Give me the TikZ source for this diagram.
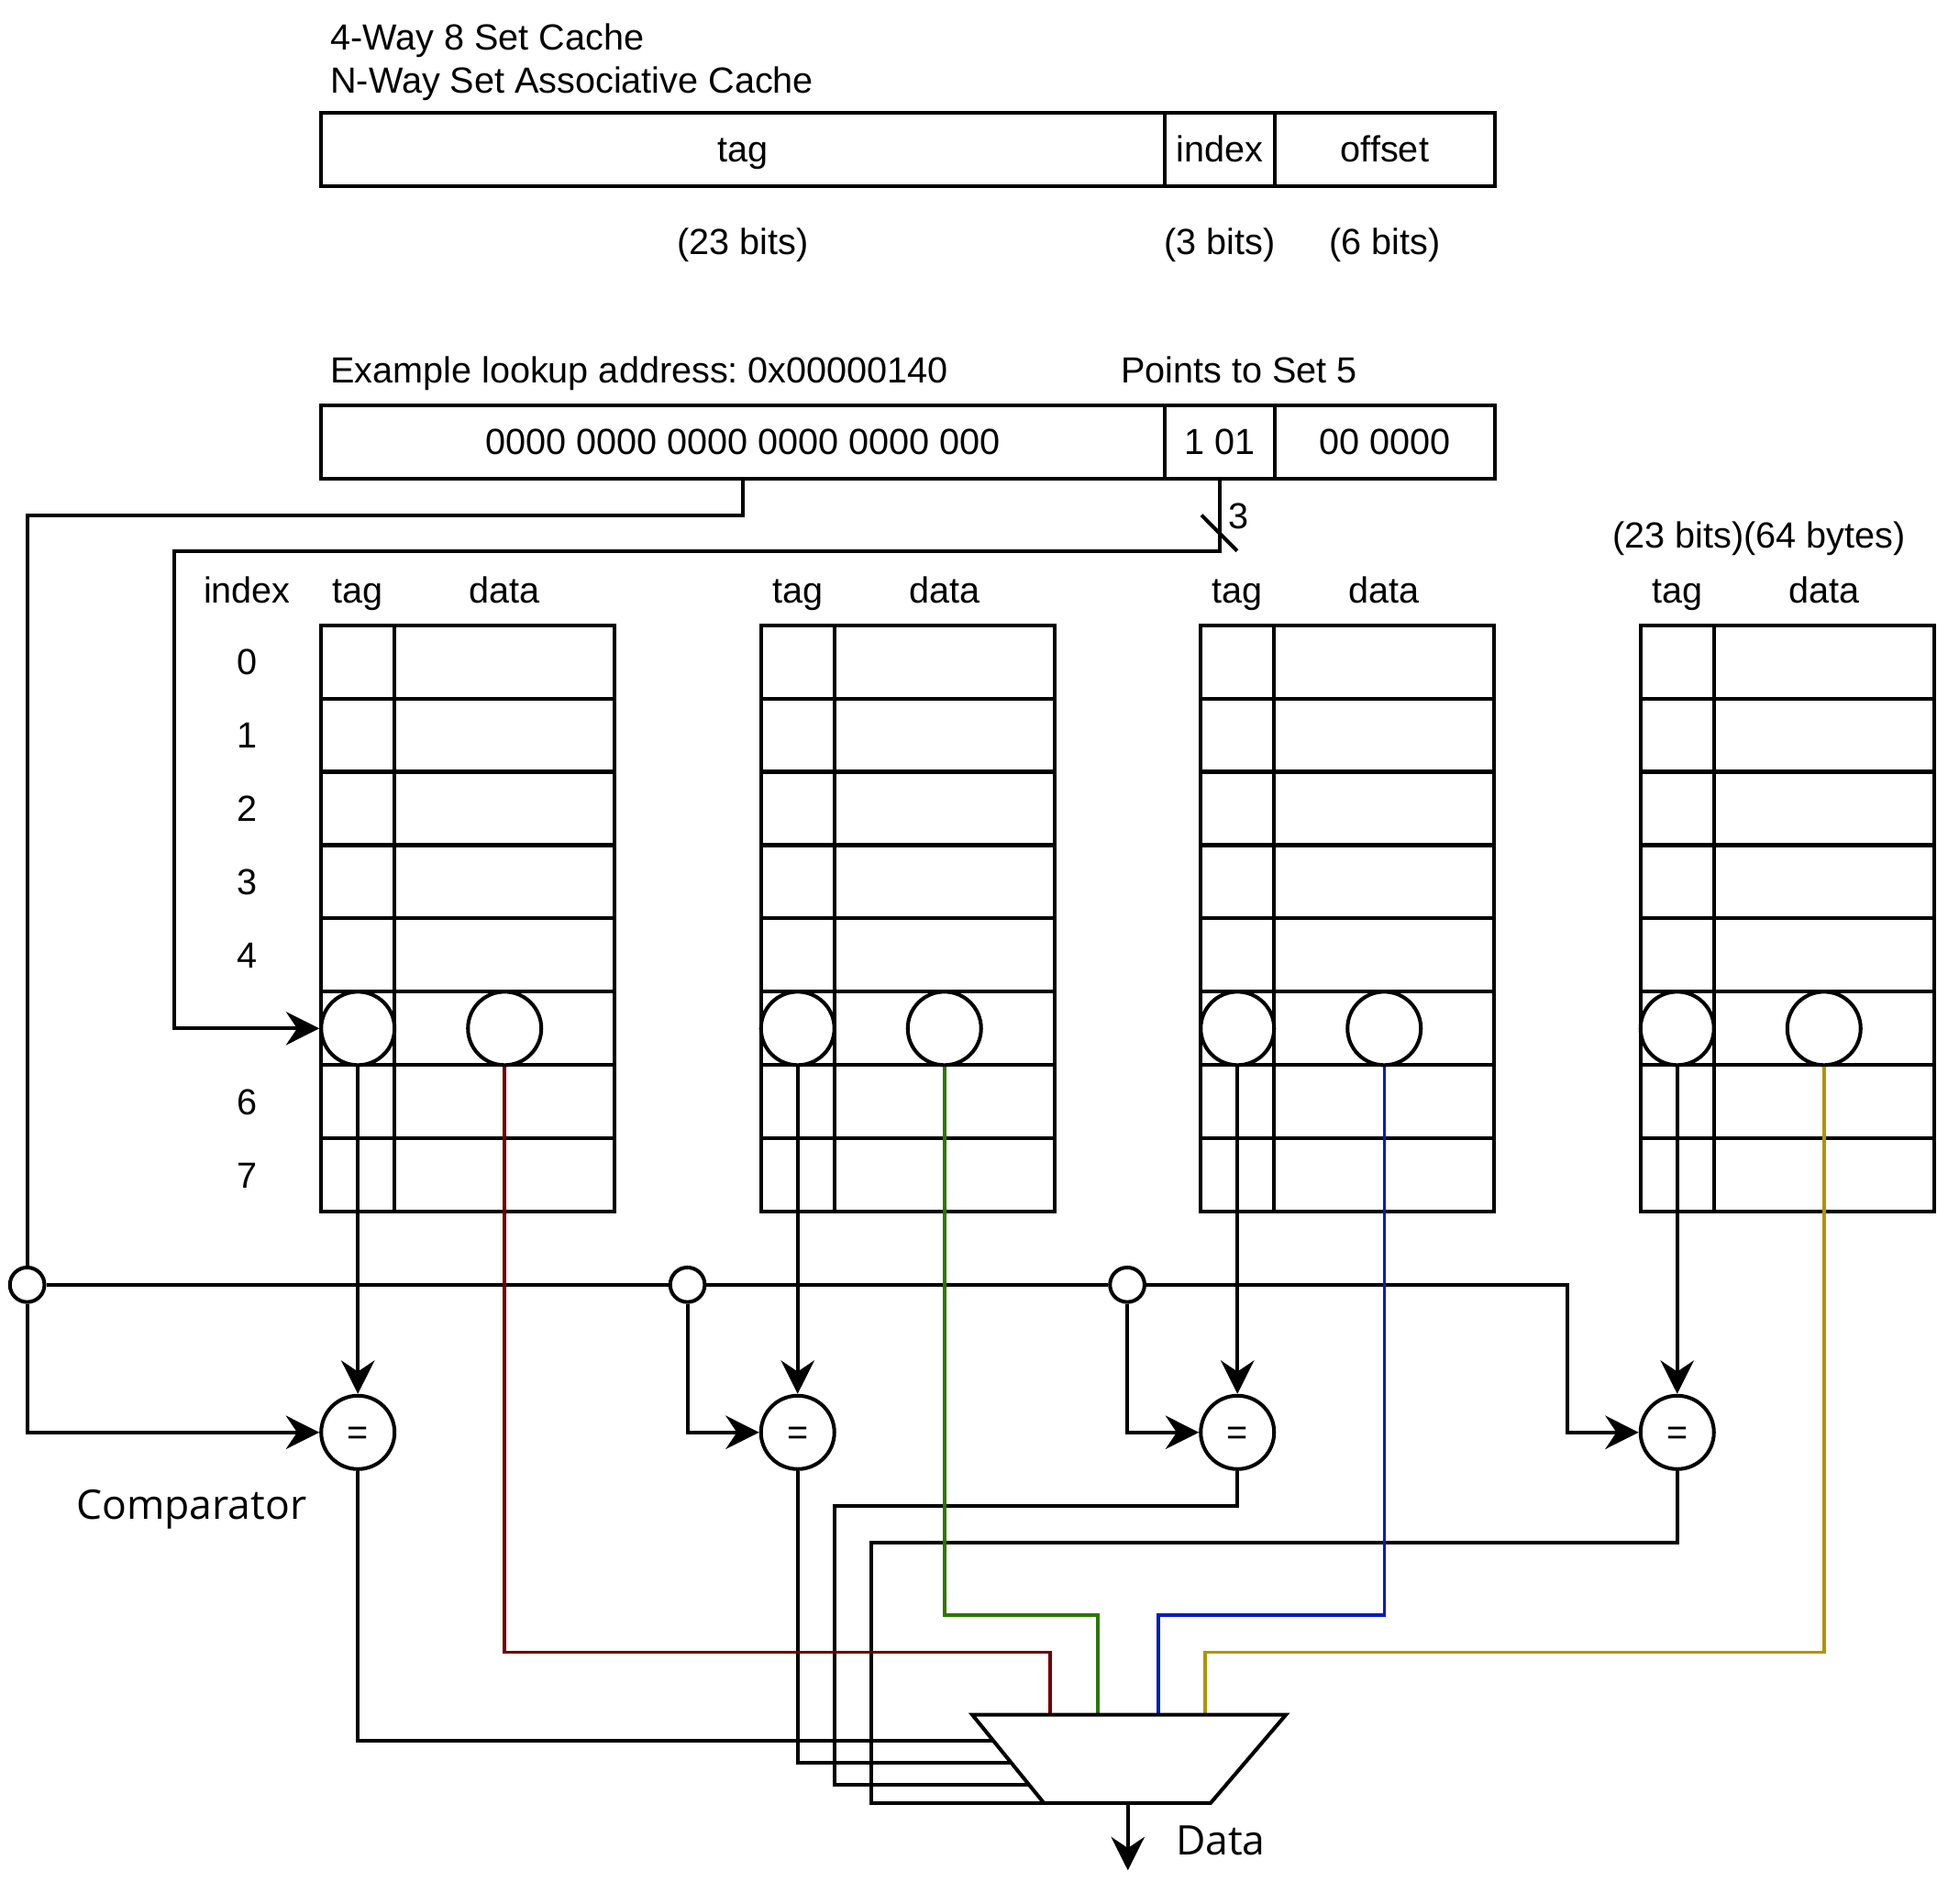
\documentclass[tikz,border=0pt]{standalone}
\usepackage{fontspec}
\setmainfont{Liberation Sans}
\newfontfamily\bigfont{Open Sans}
\usetikzlibrary{arrows.meta,calc}
\definecolor{cred}{HTML}{6F0000}
\definecolor{cgreen}{HTML}{2D7600}
\definecolor{cblue}{HTML}{001DBC}
\definecolor{cgold}{HTML}{B09500}
\frenchspacing
\begin{document}
\begin{tikzpicture}[x=1pt,y=-1pt,line width=3pt,
  lbl/.style={font=\fontsize{29.4}{35}\selectfont,inner sep=0,text height=20.6pt,text depth=0pt},
  big/.style={font=\bigfont\fontsize{33}{40}\selectfont,inner sep=0,text height=23.8pt,text depth=0pt},
  field/.style={draw,minimum height=59.4pt,inner sep=0,outer sep=0,anchor=north west,
    font=\fontsize{29.4}{35}\selectfont,text height=20.6pt,text depth=0pt},
  way/.style={draw,minimum width=237.5pt,minimum height=475pt,inner sep=0,outer sep=0,anchor=north west},
  dot/.style={circle,draw,fill=white,minimum size=59.4pt,inner sep=0},
  cmp/.style={circle,draw,fill=white,minimum size=59.4pt,inner sep=0,
    font=\fontsize{29.4}{35}\selectfont,text height=20.6pt,text depth=0pt},
  jn/.style={circle,draw,fill=white,minimum size=28pt,inner sep=0},
  arr/.style={-{Stealth[length=27pt,width=27pt,inset=9pt]}},
  dline/.style={line width=2.6pt},
  line join=miter]
\useasboundingbox (0,0) rectangle (1568,1541);

% titles
\node[lbl,anchor=west] (t1) at (266,30) {4-Way 8 Set Cache};
\node[lbl,anchor=west] (t2) at (266,65) {N-Way Set Associative Cache};

% address format
\node[field,minimum width=683pt] (A1) at (260,91) {tag};
\node[field,minimum width=89pt] (A2) at (A1.north east) {index};
\node[field,minimum width=178pt] (A3) at (A2.north east) {offset};
\node[lbl] (b1) at (601.5,196) {(23 bits)};
\node[lbl] (b2) at (987.5,196) {(3 bits)};
\node[lbl] (b3) at (1121,196) {(6 bits)};

% example address
\node[lbl,anchor=west] (ex) at (266,300) {Example lookup address: 0x00000140};
\node[lbl,anchor=west] (pt) at (906,300) {Points to Set 5};
\node[field,minimum width=683pt] (B1) at (260,328) {0000 0000 0000 0000 0000 000};
\node[field,minimum width=89pt] (B2) at (B1.north east) {1 01};
\node[field,minimum width=178pt] (B3) at (B2.north east) {00 0000};

\node[lbl] (sz) at (1424,433) {(23 bits)(64 bytes)};

% index labels
\node[lbl] (ih) at (200,478) {index};
\foreach \r in {0,1,2,3,4,6,7}
  \node[lbl] (ix\r) at (200,{506+(\r+0.5)*59.375}) {\r};

% ways
\foreach \i/\x in {1/260,2/616,3/972,4/1328} {
  \node[way] (W\i) at (\x,506) {};
  \foreach \r in {1,...,7}
    \draw (\x,{506+\r*59.375}) -- ++(237.5,0);
  \draw (\x+59.4,506) -- (\x+59.4,981);
  \node[lbl] (th\i) at (\x+29.7,478) {tag};
  \node[lbl] (dh\i) at (\x+148.5,478) {data};
  \node[dot] (T\i) at (\x+29.7,832.5) {};
  \node[dot] (D\i) at (\x+148.5,832.5) {};
  \node[cmp] (C\i) at (\x+29.7,1159.5) {=};
}

% junctions
\node[jn] (J1) at (22,1040) {};
\node[jn] (J2) at (556.5,1040) {};
\node[jn] (J3) at (912.5,1040) {};

% mux
\coordinate (mTL) at (787,1388);
\coordinate (mTR) at (1041,1388);
\coordinate (mBR) at (980,1459.5);
\coordinate (mBL) at (845,1459.5);

% tag path
\draw (B1.south) |- (22,417) -- (J1.north);
\draw[arr] (J1.south) |- (C1.west);
\draw (J1.east) -- (J2.west);
\draw (J2.east) -- (J3.west);
\draw[arr] (J3.east) -- (1268.5,1040) |- (C4.west);
\draw[arr] (J2.south) |- (C2.west);
\draw[arr] (J3.south) |- (C3.west);

% index path
\draw[arr] (B2.south) |- (141,446.5) |- (T1.west);
\coordinate (s1) at (972.6,417);
\coordinate (s2) at (1001.5,446);
\draw (s1) -- (s2);
\node[lbl] (n3) at (1003,418) {3};

% tag to comparators
\foreach \i in {1,...,4}
  \draw[arr] (T\i.south) -- (C\i.north);

% comparator outputs to mux
\draw (C1.south) |- ($(mTL)!0.294!(mBL)$);
\draw (C2.south) |- ($(mTL)!0.545!(mBL)$);
\draw (C3.south) |- (675.5,1219) |- ($(mTL)!0.797!(mBL)$);
\draw (C4.south) |- (705.5,1248.5) |- (mBL);

% data lines
\coordinate (in1) at (850,1388);
\coordinate (in2) at (888.5,1388);
\coordinate (in3) at (937.5,1388);
\coordinate (in4) at (975.5,1388);
\draw[dline,cred] (D1.south) |- (850,1337.5) -- (in1);
\draw[dline,cgreen] (D2.south) |- (888.5,1307.5) -- (in2);
\draw[dline,cblue] (D3.south) |- (937.5,1307.5) -- (in3);
\draw[dline,cgold] (D4.south) |- (975.5,1337.5) -- (in4);

\draw[fill=white] (mTL) -- (mTR) -- (mBR) -- (mBL) -- cycle;
\coordinate (mout) at (913,1459.5);
\coordinate (dout) at (913,1514);
\draw[arr] (mout) -- (dout);

\node[big] (cl) at (155,1218) {Comparator};
\node[big] (dl) at (988,1490) {Data};
\end{tikzpicture}
\end{document}
